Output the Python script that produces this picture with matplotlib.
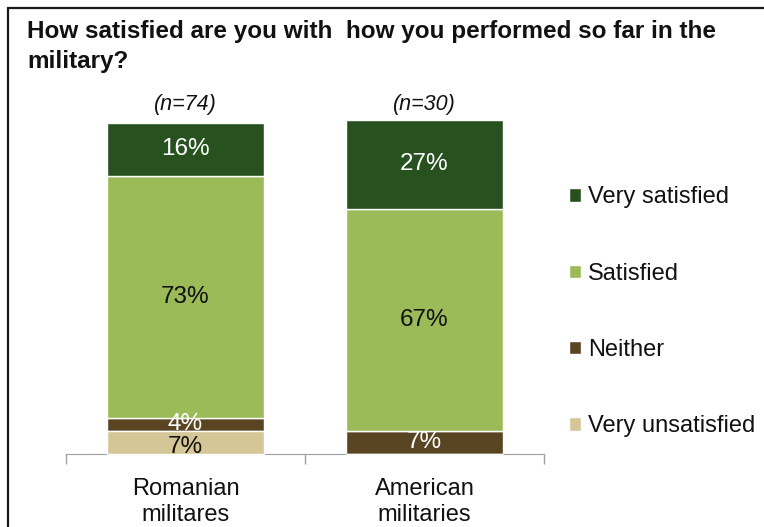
import matplotlib.pyplot as plt
from matplotlib.patches import Rectangle

categories = ["Romanian\nmilitares", "American\nmilitaries"]
sample_sizes = ["(n=74)", "(n=30)"]
series_names = ["Very unsatisfied", "Neither", "Satisfied", "Very satisfied"]
very_unsatisfied = [7, 0]
neither = [4, 7]
satisfied = [73, 67]
very_satisfied = [16, 27]

colors = ["#D4C696", "#5A4522", "#9BBB59", "#27521F"]
text_colors = ["#111111", "white", "#111111", "white"]

plt.rcParams["font.family"] = ["Liberation Sans", "DejaVu Sans"]

fig = plt.figure(figsize=(7.64, 5.27), dpi=100)
W, H = 764, 527
ax = fig.add_axes([66 / W, 1 - 454 / H, (544 - 66) / W, (454 - 123) / H])

x = [0, 1]
width = 0.657
bottoms = [0, 0]
handles = []
for i, (name, vals, col, tcol) in enumerate(zip(
        series_names, [very_unsatisfied, neither, satisfied, very_satisfied],
        colors, text_colors)):
    # the bottom segment sits above the labels of the segments stacked on it
    z_bar = 3.5 if i == 0 else 1
    z_txt = 4 if i == 0 else 3
    dy = -3 if i == 0 else 0
    bars = ax.bar(x, vals, width, bottom=bottoms, color=col, edgecolor="white",
                  linewidth=1.0, label=name, clip_on=False, zorder=z_bar)
    handles.append(bars)
    for xi, v, b in zip(x, vals, bottoms):
        if v > 0:
            ax.annotate(f"{v}%", (xi, b + v / 2), xytext=(0, dy),
                        textcoords="offset points", ha="center", va="center",
                        fontsize=17.5, color=tcol, zorder=z_txt)
    bottoms = [b + v for b, v in zip(bottoms, vals)]

for xi, n in zip(x, sample_sizes):
    ax.text(xi, 105.5, n, ha="center", va="center", fontsize=15.5, style="italic",
            color="#111111")

ax.set_xlim(-0.5, 1.5)
ax.set_ylim(0, 100)
ax.set_yticks([])
ax.set_xticks(x)
ax.set_xticklabels(categories, fontsize=17, color="#111111", linespacing=1.25)
ax.set_xticks([-0.5, 0.5, 1.5], minor=True)
ax.tick_params(axis="x", which="major", length=0, pad=17)
ax.tick_params(axis="x", which="minor", length=7, color="#A0A0A0", width=1)
for side in ["top", "right", "left"]:
    ax.spines[side].set_visible(False)
ax.spines["bottom"].set_color("#A0A0A0")

leg = ax.legend(handles[::-1], series_names[::-1], loc="upper left",
                bbox_to_anchor=(560 / W, 1 - 177 / H), bbox_transform=fig.transFigure,
                frameon=False, fontsize=17, labelspacing=2.3, handlelength=0.5,
                handleheight=0.5, handletextpad=0.3, borderaxespad=0)
for t in leg.get_texts():
    t.set_color("#111111")

fig.text(27 / W, 1 - 46.5 / H,
         "How satisfied are you with  how you performed so far in the\nmilitary?",
         ha="left", va="center", fontsize=17.5, fontweight="bold", color="#111111",
         linespacing=1.42)

border = Rectangle((7.5 / W, -0.1), 1.2, 1 - 7.5 / H + 0.1, transform=fig.transFigure,
                   fill=False, edgecolor="#1A1A1A", linewidth=1.6)
fig.patches.append(border)

fig.savefig("out.png", dpi=100)
